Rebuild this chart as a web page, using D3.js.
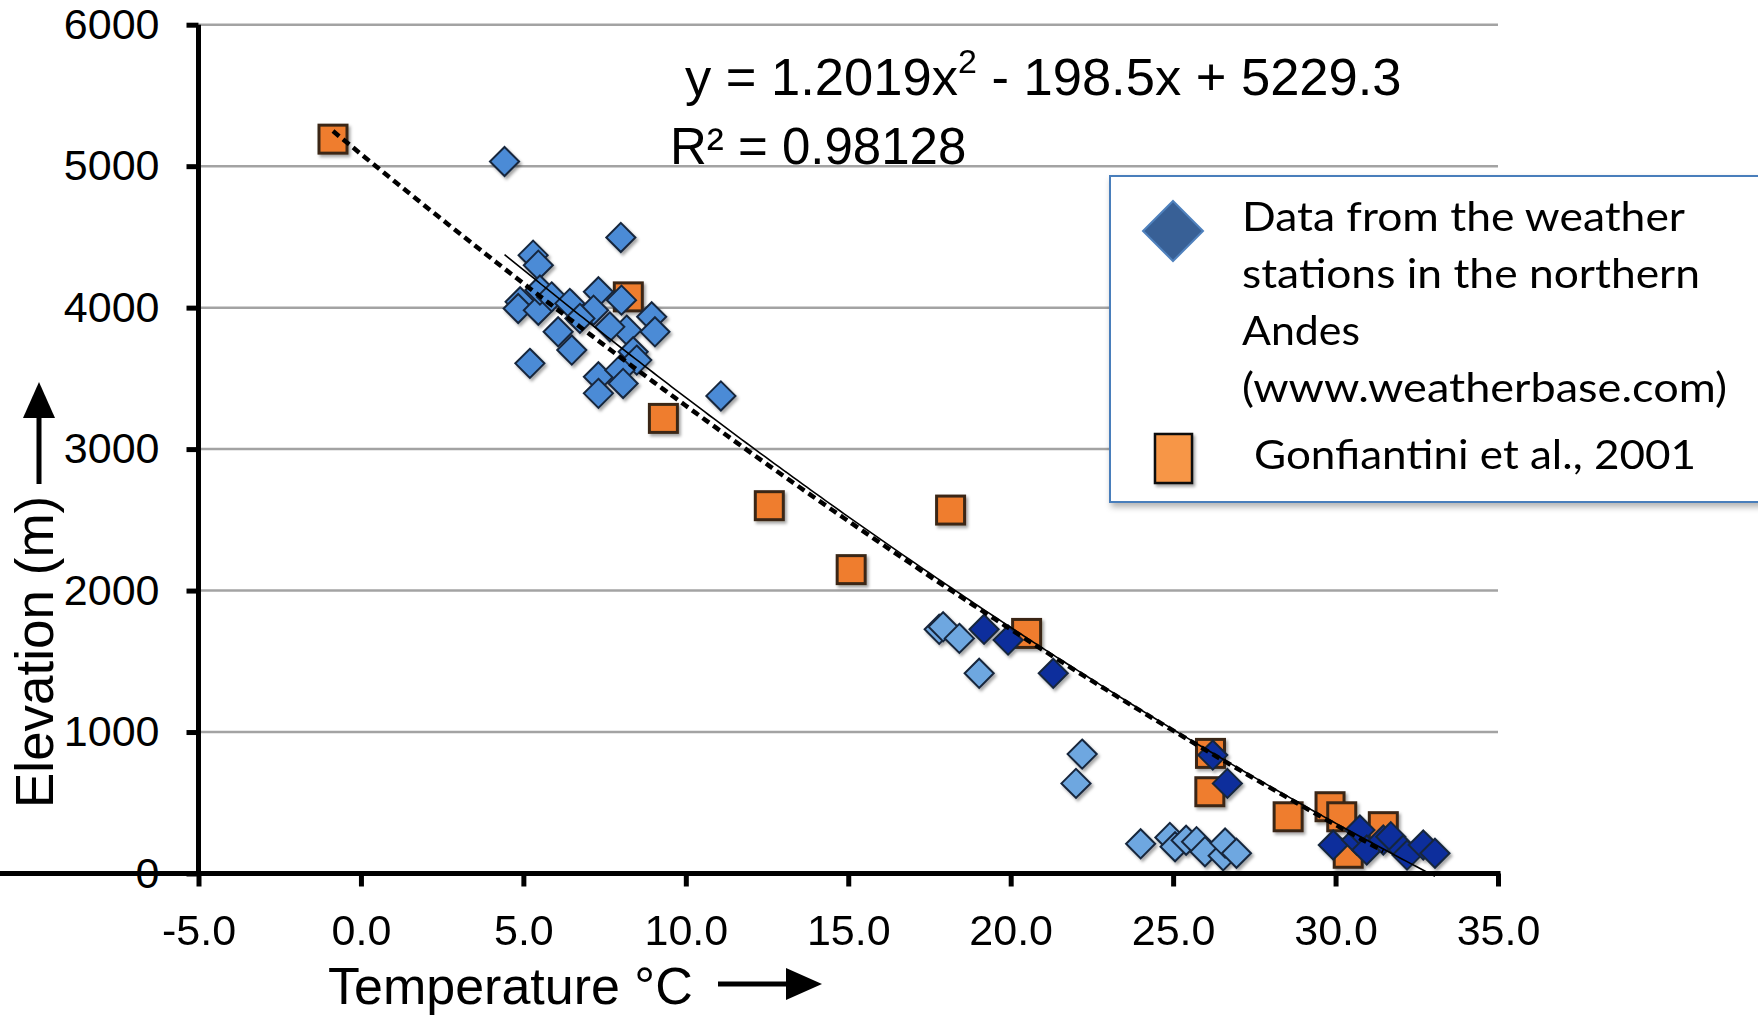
<!DOCTYPE html>
<html>
<head>
<meta charset="utf-8">
<script src="https://cdn.jsdelivr.net/npm/d3@7"></script>
<style>
  html, body { margin: 0; padding: 0; background: #ffffff; }
  svg { display: block; }
</style>
</head>
<body>
<svg id="chart" width="1758" height="1015"></svg>
<script>
// Axis ticks
const xTicks = [-5, 0, 5, 10, 15, 20, 25, 30, 35];
const yTicks = [0, 1000, 2000, 3000, 4000, 5000, 6000];

// Weather stations, high northern Andes (temperature °C, elevation m)
const highTemp = [4.42, 8.00, 5.30, 5.46, 4.90, 4.84, 5.46, 5.51, 5.87, 6.43, 7.31, 8.02, 7.16, 6.74,
                  8.95, 9.05, 8.18, 7.66, 6.07, 6.49, 8.38, 8.49, 5.20, 7.31, 7.97, 8.07, 7.31, 11.08];
const highElev = [5033, 4496, 4371, 4300, 4041, 3994, 3982, 4124, 4076, 4030, 4112, 4053, 3982, 3924,
                  3935, 3829, 3841, 3864, 3829, 3700, 3688, 3629, 3606, 3511, 3558, 3464, 3394, 3376];

// Weather stations, lower slopes
const lowTemp = [17.80, 17.92, 18.42, 19.03, 22.20, 22.01, 24.00, 24.90, 25.06, 25.40, 25.72, 25.98, 26.54, 26.60, 26.95];
const lowElev = [1726, 1744, 1662, 1415, 844, 637, 210, 255, 189, 235, 225, 154, 125, 215, 143];

// Weather stations, lowlands
const lowlandTemp = [19.18, 19.92, 21.31, 26.22, 26.67, 29.93, 30.65, 30.75, 30.96, 31.47, 31.70, 32.08, 32.20, 32.70, 33.06];
const lowlandElev = [1726, 1650, 1415, 837, 637, 201, 237, 307, 166, 237, 260, 166, 130, 201, 143];

// Gonfiantini et al., 2001
const gonfTemp = [-0.86, 8.23, 9.31, 12.57, 15.09, 18.15, 20.49, 26.15, 26.13, 28.54, 29.83, 30.19, 31.47, 30.39];
const gonfElev = [5191, 4076, 3217, 2600, 2148, 2569, 1697, 849, 578, 401, 472, 401, 331, 143];

// Polynomial trend of the weather-station data, as printed on the chart
const stationFit = [1.2019, -198.5, 5229.3];   // a, b, c for a·x² + b·x + c
const fitLabel = ["y = 1.2019x", "2", " - 198.5x + 5229.3"];
const r2Label = "R² = 0.98128";

const legendStations = ["Data from the weather", "stations in the northern", "Andes", "(www.weatherbase.com)"];
const legendGonf = "Gonfiantini et al., 2001";

const zip = (xs, ys) => xs.map((v, i) => ({ t: v, e: ys[i] }));
const stations = zip(highTemp, highElev).concat(zip(lowTemp, lowElev), zip(lowlandTemp, lowlandElev));
const gonf = zip(gonfTemp, gonfElev);

// Least-squares quadratic for the Gonfiantini points
function quadFit(pts) {
  let s = [0, 0, 0, 0, 0], sy = [0, 0, 0];
  pts.forEach(p => {
    let xp = 1;
    for (let k = 0; k <= 4; k++) { s[k] += xp; if (k <= 2) sy[k] += xp * p.e; xp *= p.t; }
  });
  const M = [[s[4], s[3], s[2], sy[2]], [s[3], s[2], s[1], sy[1]], [s[2], s[1], s[0], sy[0]]];
  for (let i = 0; i < 3; i++) {
    for (let j = i + 1; j < 3; j++) {
      const f = M[j][i] / M[i][i];
      for (let k = i; k < 4; k++) M[j][k] -= f * M[i][k];
    }
  }
  const r = [0, 0, 0];
  for (let i = 2; i >= 0; i--) {
    let v = M[i][3];
    for (let k = i + 1; k < 3; k++) v -= M[i][k] * r[k];
    r[i] = v / M[i][i];
  }
  return r;
}
const gonfFit = quadFit(gonf);

const svg = d3.select("#chart");
const x = d3.scaleLinear().domain([-5, 35]).range([198.5, 1498]);
const y = d3.scaleLinear().domain([0, 6000]).range([873.5, 24.7]);

const defs = svg.append("defs");
const shadow = defs.append("filter").attr("id", "mshadow")
  .attr("x", "-40%").attr("y", "-40%").attr("width", "180%").attr("height", "180%");
shadow.append("feDropShadow").attr("dx", 2).attr("dy", 2.5).attr("stdDeviation", 1.6)
  .attr("flood-color", "#000").attr("flood-opacity", 0.35);
const boxShadow = defs.append("filter").attr("id", "bshadow")
  .attr("x", "-10%").attr("y", "-10%").attr("width", "130%").attr("height", "130%");
boxShadow.append("feDropShadow").attr("dx", 2).attr("dy", 4).attr("stdDeviation", 3)
  .attr("flood-color", "#000").attr("flood-opacity", 0.3);

// Gridlines
svg.append("g").selectAll("line").data(yTicks.filter(d => d > 0)).join("line")
  .attr("x1", x(-5)).attr("x2", x(35))
  .attr("y1", d => y(d)).attr("y2", d => y(d))
  .attr("stroke", "#a3a3a3").attr("stroke-width", 2.5);

// Markers
const pointsG = svg.append("g").attr("filter", "url(#mshadow)");
const sq = 28;
pointsG.selectAll("rect.g").data(gonf).join("rect").attr("class", "g")
  .attr("x", d => x(d.t) - sq / 2).attr("y", d => y(d.e) - sq / 2)
  .attr("width", sq).attr("height", sq)
  .attr("fill", "#ef7d2d").attr("stroke", "#3a2818").attr("stroke-width", 3);

const diamond = d3.symbol().type(d3.symbolDiamond2).size(540);
function drawDiamonds(data, fill) {
  pointsG.append("g").selectAll("path").data(data).join("path")
    .attr("transform", d => `translate(${x(d.t)},${y(d.e)})`)
    .attr("d", diamond)
    .attr("fill", fill).attr("stroke", "#17263c").attr("stroke-width", 2);
}
drawDiamonds(zip(highTemp, highElev), "#4b8bd6");
drawDiamonds(zip(lowTemp, lowElev), "#6ea7e0");
drawDiamonds(zip(lowlandTemp, lowlandElev), "#0b2f9c");

// Trend lines
const curve = (coef, t0, t1) => d3.range(0, 201).map(i => {
  const t = t0 + (t1 - t0) * i / 200;
  return [t, coef[0] * t * t + coef[1] * t + coef[2]];
});
const lineGen = d3.line().x(d => x(d[0])).y(d => y(d[1]));
svg.append("path")
  .attr("d", lineGen(curve(gonfFit, d3.min(gonfTemp), d3.max(gonfTemp))))
  .attr("fill", "none").attr("stroke", "#000").attr("stroke-width", 4.5)
  .attr("stroke-dasharray", "8,5");
const stTemps = stations.map(d => d.t);
svg.append("path")
  .attr("d", lineGen(curve(stationFit, d3.min(stTemps), d3.max(stTemps))))
  .attr("fill", "none").attr("stroke", "#000").attr("stroke-width", 1.6);

// Axes
const fontAxis = "'Liberation Sans', Arial, sans-serif";
const yAxis = svg.append("g").attr("transform", `translate(${x(-5)},0)`)
  .call(d3.axisLeft(y).tickValues(yTicks).tickSize(12).tickSizeOuter(0).tickPadding(27).tickFormat(d => String(d)));
const xAxis = svg.append("g").attr("transform", `translate(0,${y(0)})`)
  .call(d3.axisBottom(x).tickValues(xTicks).tickSize(13).tickSizeOuter(0).tickPadding(28).tickFormat(d => d.toFixed(1)));
[yAxis, xAxis].forEach(g => {
  g.select(".domain").attr("stroke", "#000").attr("stroke-width", 5);
  g.selectAll(".tick line").attr("stroke", "#000").attr("stroke-width", 5);
  g.selectAll(".tick text").attr("fill", "#000").style("font-family", fontAxis).style("font-size", "43px");
});
yAxis.select(".domain").attr("d", `M0,${y(6000)}V${y(0) + 2.5}`);
xAxis.select(".domain").attr("d", `M-2.5,0H${x(35) + 2.5}`);

// Axis titles and arrows
svg.append("text").attr("x", 328).attr("y", 1004)
  .style("font-family", fontAxis).style("font-size", "52px").attr("fill", "#000")
  .text("Temperature °C");
svg.append("line").attr("x1", 718).attr("x2", 792).attr("y1", 984).attr("y2", 984)
  .attr("stroke", "#000").attr("stroke-width", 5);
svg.append("path").attr("d", "M786,968 L822,984 L786,1000 Z").attr("fill", "#000");

svg.append("text").attr("transform", "translate(53,808) rotate(-90)")
  .style("font-family", fontAxis).style("font-size", "53px").attr("fill", "#000")
  .text("Elevation (m)");
svg.append("line").attr("x1", 39).attr("x2", 39).attr("y1", 484).attr("y2", 410)
  .attr("stroke", "#000").attr("stroke-width", 5);
svg.append("path").attr("d", "M23,418 L39,382 L55,418 Z").attr("fill", "#000");

// Trend equation
const eq = svg.append("text").attr("x", 685).attr("y", 95)
  .style("font-family", fontAxis).style("font-size", "52.5px").attr("fill", "#000");
eq.append("tspan").text(fitLabel[0]);
eq.append("tspan").attr("dy", -22).style("font-size", "34px").text(fitLabel[1]);
eq.append("tspan").attr("dy", 22).text(fitLabel[2]);
svg.append("text").attr("x", 670).attr("y", 164)
  .style("font-family", fontAxis).style("font-size", "51px").attr("fill", "#000")
  .text(r2Label);

// Legend
const lg = svg.append("g");
lg.append("rect").attr("x", 1110).attr("y", 176).attr("width", 700).attr("height", 326)
  .attr("fill", "#fff").attr("stroke", "#4a7ebb").attr("stroke-width", 2)
  .attr("filter", "url(#bshadow)");
lg.append("path").attr("d", "M1173,201 L1203,231 L1173,261 L1143,231 Z")
  .attr("fill", "#386096").attr("stroke", "#4f81bd").attr("stroke-width", 2);
lg.append("rect").attr("x", 1155).attr("y", 434).attr("width", 37).attr("height", 49)
  .attr("fill", "#f79646").attr("stroke", "#111").attr("stroke-width", 2.5)
  .attr("filter", "url(#mshadow)");
const legendFont = "Lato, 'Open Sans', sans-serif";
const lineWidths = [443, 458, 118, 485];
const lineBase = [231, 288, 345, 402];
legendStations.forEach((s, i) => {
  lg.append("text").attr("x", 1242).attr("y", lineBase[i])
    .style("font-family", legendFont).style("font-size", "40px").attr("fill", "#000")
    .attr("textLength", lineWidths[i]).attr("lengthAdjust", "spacingAndGlyphs")
    .text(s);
});
lg.append("text").attr("x", 1254).attr("y", 469)
  .style("font-family", legendFont).style("font-size", "40px").attr("fill", "#000")
  .attr("textLength", 442).attr("lengthAdjust", "spacingAndGlyphs")
  .text(legendGonf);
</script>
</body>
</html>
